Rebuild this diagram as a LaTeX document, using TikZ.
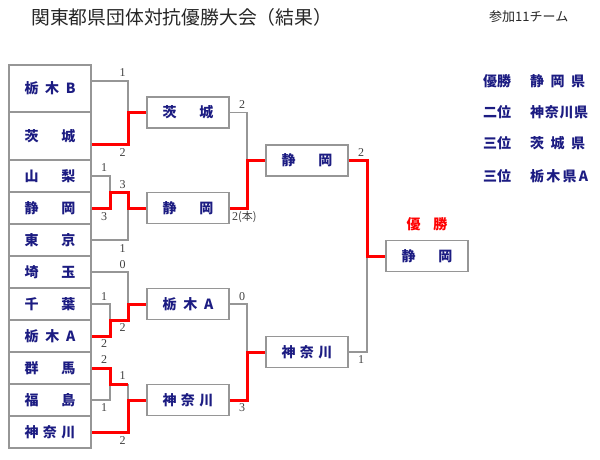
\documentclass[tikz,border=0pt]{standalone}
\usepackage{fontspec}
\newfontfamily\jp{Noto Sans CJK JP}
\newfontfamily\numf{Liberation Serif}
\definecolor{navy}{RGB}{28,28,130}
\definecolor{lgray}{RGB}{150,150,150}
\newcommand\jw[1]{\makebox[51pt][s]{#1}}
\begin{document}
\begin{tikzpicture}[x=1pt,y=-1pt,
  team/.style={draw=lgray, line width=1.5pt, fill=white, inner sep=0pt, minimum width=82pt, minimum height=32pt, font=\jp\bfseries\fontsize{14}{14}\selectfont, text=navy},
  gl/.style={draw=lgray, line width=1.2pt},
  rl/.style={draw=red, line width=3pt},
  sc/.style={font=\numf\fontsize{12}{12}\selectfont, text=black!75, inner sep=0pt},
  lst/.style={font=\jp\bfseries\fontsize{14}{14}\selectfont, text=navy, inner sep=0pt, anchor=west}]
\useasboundingbox (0,0) rectangle (600,460);
% title
\node[font=\jp\fontsize{18.8}{19}\selectfont, anchor=west, inner sep=0pt, text=black!85] (title) at (31,17) {関東都県団体対抗優勝大会（結果）};
\node[font=\jp\fontsize{13}{13}\selectfont, anchor=west, inner sep=0pt, text=black!85] (count) at (489,17) {参加11チーム};
% round 1
\node[team, minimum height=47pt] (tb) at (50,88.5) {\jw{栃\hfill 木\hfill B}};
\node[team, minimum height=48pt] (ib) at (50,136) {\jw{茨\hfill 城}};
\node[team] (ym) at (50,176) {\jw{山\hfill 梨}};
\node[team] (sz) at (50,208) {\jw{静\hfill 岡}};
\node[team] (tk) at (50,240) {\jw{東\hfill 京}};
\node[team] (st) at (50,272) {\jw{埼\hfill 玉}};
\node[team] (cb) at (50,304) {\jw{千\hfill 葉}};
\node[team] (ta) at (50,336) {\jw{栃\hfill 木\hfill A}};
\node[team] (gm) at (50,368) {\jw{群\hfill 馬}};
\node[team] (fs) at (50,400) {\jw{福\hfill 島}};
\node[team] (kn) at (50,432) {\jw{神\hfill 奈\hfill 川}};
% round 2
\node[team, minimum height=31pt] (r1) at (188,112.5) {\jw{茨\hfill 城}};
\node[team, minimum height=31pt] (r2) at (188,208) {\jw{静\hfill 岡}};
\node[team, minimum height=31pt] (r3) at (188,304) {\jw{栃\hfill 木\hfill A}};
\node[team, minimum height=31pt] (r4) at (188,400) {\jw{神\hfill 奈\hfill 川}};
% round 3
\node[team, minimum height=31pt] (s1) at (307,160.5) {\jw{静\hfill 岡}};
\node[team, minimum height=31pt] (s2) at (307,352) {\jw{神\hfill 奈\hfill 川}};
% final
\node[team, minimum height=31pt] (f) at (427,256) {\jw{静\hfill 岡}};
\node[font=\jp\bfseries\fontsize{14}{14}\selectfont, text=red, inner sep=0pt] (win) at (427,224) {\makebox[41pt][s]{優\hfill 勝}};
% connectors
\coordinate (tbo) at (tb.east |- 0,81);
\coordinate (ibo) at (ib.east |- 0,144);
\coordinate (a1) at (128,112.5);
\coordinate (a2) at (110,192);
\coordinate (a3) at (128,208);
\coordinate (b1) at (128,304);
\coordinate (b2) at (110,320);
\coordinate (c1) at (110,384);
\coordinate (c2) at (128,384);
\coordinate (c3) at (128,400);
\coordinate (d1) at (247,160.5);
\coordinate (d2) at (247,352);
\coordinate (e1) at (367,256);
\draw[gl] (tbo) -| (a1);
\draw[gl] (ym.east) -| (a2);
\draw[gl] (tk.east) -| (a3);
\draw[gl] (st.east) -| (b1);
\draw[gl] (cb.east) -| (b2);
\draw[gl] (fs.east) -| (c1);
\draw[gl] (c2) -- (c3);
\draw[gl] (r1.east) -| (d1);
\draw[gl] (r3.east) -| (d2);
\draw[gl] (s2.east) -| (e1);
\draw[rl] (ibo) -| (a1) -- (r1.west);
\draw[rl] (sz.east) -| (a2) -| (a3) -- (r2.west);
\draw[rl] (ta.east) -| (b2) -| (b1) -- (r3.west);
\draw[rl] (gm.east) -| (c1) -- (c2);
\draw[rl] (kn.east) -| (c3) -- (r4.west);
\draw[rl] (r2.east) -| (d1) -- (s1.west);
\draw[rl] (r4.east) -| (d2) -- (s2.west);
\draw[rl] (s1.east) -| (e1) -- (f.west);
% scores
\node[sc] (n1) at (122.5,73) {1};
\node[sc] (n2) at (122.5,153) {2};
\node[sc] (n3) at (104,168) {1};
\node[sc] (n4) at (122.5,185) {3};
\node[sc] (n5) at (104,217) {3};
\node[sc] (n6) at (122.5,249) {1};
\node[sc] (n7) at (122.5,265) {0};
\node[sc] (n8) at (104,297) {1};
\node[sc] (n9) at (122.5,328) {2};
\node[sc] (n10) at (104,344) {2};
\node[sc] (n11) at (104,360) {2};
\node[sc] (n12) at (122.5,376) {1};
\node[sc] (n13) at (104,408) {1};
\node[sc] (n14) at (122.5,441) {2};
\node[sc] (n15) at (242,105) {2};
\node[sc, anchor=west] (n16) at (232,217) {2\jp{\fontsize{11}{11}\selectfont (本)}};
\node[sc] (n17) at (242,297) {0};
\node[sc] (n18) at (242,408) {3};
\node[sc] (n19) at (361,152.5) {2};
\node[sc] (n20) at (361,360) {1};
% ranking list
\node[lst] (k1) at (483,81) {優勝};
\node[lst] (v1) at (530,81) {\makebox[55pt][s]{静\hfill 岡\hfill 県}};
\node[lst] (k2) at (483,112) {二位};
\node[lst] (v2) at (530,112) {\makebox[58pt][s]{神\hfill 奈\hfill 川\hfill 県}};
\node[lst] (k3) at (483,143) {三位};
\node[lst] (v3) at (530,143) {\makebox[55pt][s]{茨\hfill 城\hfill 県}};
\node[lst] (k4) at (483,176) {三位};
\node[lst] (v4) at (530,176) {\makebox[58pt][s]{栃\hfill 木\hfill 県\hfill A}};
\end{tikzpicture}
\end{document}
